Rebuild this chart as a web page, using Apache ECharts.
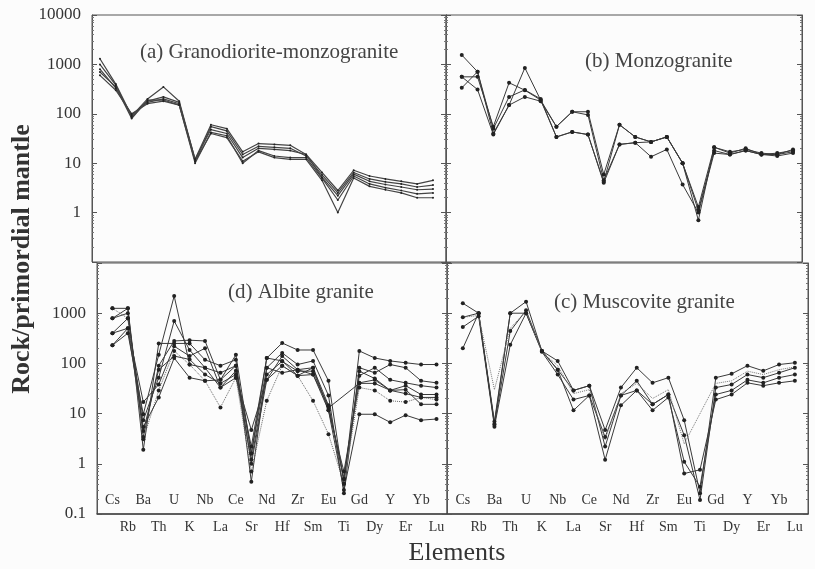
<!DOCTYPE html>
<html><head><meta charset="utf-8">
<script src="https://cdn.jsdelivr.net/npm/echarts@6/dist/echarts.min.js"></script>
<style>html,body{margin:0;padding:0;background:#fcfcfc}#c{width:815px;height:569px}</style>
</head><body><div id="c"></div>
<script>
// Element order (x categories)
const elements = ['Cs','Rb','Ba','Th','U','K','Nb','La','Ce','Sr','Nd','Hf','Zr','Sm','Eu','Ti','Gd','Dy','Y','Er','Yb','Lu'];
const yTickLabels = ['0.1','1','10','100','1000','10000'];

// (a) Granodiorite-monzogranite
const a1 = [1300,400,90,200,350,180,12,60,50,17,25,24,23,15,6.5,2.8,7.2,5.5,4.8,4.3,3.8,4.5];
const a2 = [1000,380,85,180,220,170,11,55,45,15,22,21,20,14,5.8,2.5,6.5,4.8,4.2,3.8,3.3,3.6];
const a3 = [800,330,95,170,200,160,12,48,40,13,20,19,18,15,5.2,2.2,6.0,4.3,3.7,3.3,2.9,3.0];
const a4 = [600,300,100,160,180,150,10,42,36,10,18,14,13,13,5.0,1.8,5.5,3.8,3.2,2.8,2.4,2.5];
const a5 = [700,350,80,190,190,150,11,40,33,11,17,13,12,12,4.5,1.0,5.0,3.4,2.9,2.5,2.0,2.0];

// (b) Monzogranite
const b1 = [1550,710,40,150,850,190,34,43,38,4.2,60,34,27,34,10,0.7,21,17,19,16,15,19];
const b2 = [560,560,55,425,300,190,55,110,110,5.9,60,34,27,34,10,1.3,21,16,20,15,16,18];
const b3 = [560,310,38,150,220,180,55,110,95,4.5,24,26,13.5,19,3.7,1.0,16,15,18,15,14,16];
const b4 = [335,710,50,220,305,200,34,43,38,4.0,24,26,27,34,10,1.1,18,15,18,15,15,17];

// (d) Albite granite
const d1 = [1250,1250,3.4,90,280,290,280,47,148,1.6,128,255,185,185,45,0.4,177,128,112,103,95,95];
const d2 = [790,1250,1.9,250,250,250,118,90,118,0.44,82,162,95,112,23,0.26,82,65,95,82,45,41];
const d3 = [400,790,7.4,52,700,185,82,65,90,1.0,47,140,75,82,14.6,0.5,57,82,47,41,36,33];
const d4 = [230,500,17,38,220,140,200,33,71,2.2,128,112,57,60,11.6,0.7,41,47,29,36,24,24];
const d5 = [1250,790,3.1,29,177,95,45,13.3,52,0.7,18,90,57,18,3.9,0.4,33,29,18,17,21,19];
const d6 = [400,500,5.4,21,128,52,45,47,90,1.6,82,65,75,60,14,0.5,70,50,29,30,15.3,15.3];
const d7 = [230,400,9.7,148,2200,95,82,33,52,4.7,47,90,57,82,11.6,0.3,9.7,9.7,6.7,9.3,7.4,7.8];
const d8 = [790,1000,4.5,75,140,120,60,40,60,1.2,60,110,70,70,13,null,40,40,29,25,21,21];

// (c) Muscovite granite
const c1 = [1580,1000,6.2,1000,1700,177,112,29,36,4.7,33,82,41,52,7.4,0.26,52,62,90,71,95,103];
const c2 = [830,1000,6.0,440,1140,177,75,29,36,2.2,23,45,15.3,24,3.7,0.19,33,38,60,52,65,82];
const c3 = [530,870,5.5,235,1000,170,60,19,23,1.2,14.6,29,11.6,21,1.1,0.35,24,29,47,41,52,60];
const c4 = [200,1000,7.0,1000,1000,177,75,11.6,23,3.4,23,29,15.3,24,0.64,0.76,19,24,41,36,41,45];
const c5 = [830,900,30,500,1100,170,90,25,30,3.0,25,40,20,30,2.5,null,40,45,70,60,75,85];

const panelA = [a1,a2,a3,a4,a5];
const panelB = [b1,b2,b3,b4];
const panelD = [d1,d2,d3,d4,d5,d6,d7,d8];
const panelC = [c1,c2,c3,c4,c5];

const serif = 'Liberation Serif';
const ink = '#333';

function expLabel(v){ const e = Math.round(Math.log10(v)); return yTickLabels[e+1]; }

const grids = [
  {left:92, top:15, width:354, height:247},
  {left:446, top:15, width:356, height:247},
  {left:97, top:263, width:350, height:251},
  {left:447, top:263, width:361, height:251}
].map(g => Object.assign(g, {show:true, borderColor:'#555', borderWidth:1, backgroundColor:'transparent'}));

function yAx(gi, pos, labelFilter){
  return {
    type:'log', logBase:10, min:0.1, max:10000, gridIndex:gi, position:pos,
    axisLine:{show:true, onZero:false, lineStyle:{color:'#555', width:1}},
    axisTick:{show:true, inside:true, length:5, lineStyle:{color:'#555'}},
    minorTick:{show:true, splitNumber:9, length:2, lineStyle:{color:'#777'}},
    splitLine:{show:false},
    axisLabel:{show: !!labelFilter, margin:11, fontFamily:serif, fontSize:17, color:ink,
      formatter: v => (labelFilter && labelFilter(v)) ? expLabel(v) : ''}
  };
}
const yAxes = [
  yAx(0,'left', v => v >= 0.99), yAx(0,'right', null),
  yAx(1,'left', null), yAx(1,'right', null),
  yAx(2,'left', v => v <= 1001), yAx(2,'right', null),
  yAx(3,'left', null), yAx(3,'right', null)
];

function xAx(gi, min, max, mode){
  const base = {type:'value', gridIndex:gi, min:min, max:max, position:'bottom',
    splitLine:{show:false}, axisTick:{show:false}};
  if (mode === 'none') {
    return Object.assign(base, {axisLine:{show:false, onZero:false}, axisLabel:{show:false}});
  }
  return Object.assign(base, {
    interval:1,
    axisLine:{show: mode === 'odd', onZero:false, lineStyle:{color:'#444', width:1.5}},
    axisLabel:{show:true, inside: mode === 'even', margin: mode === 'even' ? 7 : 6,
      fontFamily:serif, fontSize:14, color:ink, showMinLabel:true, showMaxLabel:true,
      formatter: v => {
        const i = Math.round(v);
        if (i < 0 || i >= elements.length) return '';
        if (mode === 'even') return i % 2 === 0 ? elements[i] : '';
        return i % 2 === 1 ? elements[i] : '';
      }}
  });
}
const xAxes = [
  xAx(0, -0.5, 21.82, 'none'),
  xAx(1, -1, 21.57, 'none'),
  xAx(2, -1, 21.68, 'even'),
  xAx(2, -1, 21.68, 'odd'),
  xAx(3, -1, 21.83, 'even'),
  xAx(3, -1, 21.83, 'odd')
];

function mk(values, xi, yi, opt){
  opt = opt || {};
  return {
    type:'line', xAxisIndex:xi, yAxisIndex:yi, silent:true, animation:false,
    data: values.map((v,i) => [i, v == null ? '-' : v]),
    connectNulls:true,
    symbol: opt.symbol || 'circle', symbolSize: opt.size != null ? opt.size : 4,
    showSymbol: true,
    lineStyle:{color: opt.color || '#3a3a3a', width: opt.width || 1, type: opt.type || 'solid'},
    itemStyle:{color:'#222'}
  };
}

const series = [];
panelA.forEach(s => series.push(mk(s, 0, 0, {size:2, width:1.2, color:'#444'})));
panelB.forEach(s => series.push(mk(s, 1, 2, {size:4})));
panelD.forEach((s,k) => series.push(mk(s, 2, 4, {size:4, type: k === 4 ? 'dotted' : 'solid', color: k===4 ? '#666' : '#3a3a3a'})));
panelC.forEach((s,k) => series.push(mk(s, 4, 6, {size: k===4 ? 0 : 4, type: k === 4 ? 'dotted' : 'solid', color: k===4 ? '#777' : '#3a3a3a'})));

const tfont = '21px "Liberation Serif"';
const option = {
  backgroundColor:'#fcfcfc',
  animation:false,
  grid: grids,
  xAxis: xAxes,
  yAxis: yAxes,
  series: series,
  graphic: [
    {type:'text', x:140, y:52, style:{text:'(a) Granodiorite-monzogranite', font:tfont, fill:'#444', verticalAlign:'middle'}},
    {type:'text', x:585, y:61, style:{text:'(b) Monzogranite', font:tfont, fill:'#444', verticalAlign:'middle'}},
    {type:'text', x:228, y:292, style:{text:'(d) Albite granite', font:tfont, fill:'#444', verticalAlign:'middle'}},
    {type:'text', x:554, y:302, style:{text:'(c) Muscovite granite', font:tfont, fill:'#444', verticalAlign:'middle'}},
    {type:'text', x:22, y:259, rotation:Math.PI/2, style:{text:'Rock/primordial mantle', font:'bold 26px "Liberation Serif"', fill:'#333', align:'center', verticalAlign:'middle'}},
    {type:'text', x:457, y:553, style:{text:'Elements', font:'26px "Liberation Serif"', fill:'#333', align:'center', verticalAlign:'middle'}}
  ]
};
echarts.init(document.getElementById('c'), null, {renderer:'canvas'}).setOption(option);
</script>
</body></html>
